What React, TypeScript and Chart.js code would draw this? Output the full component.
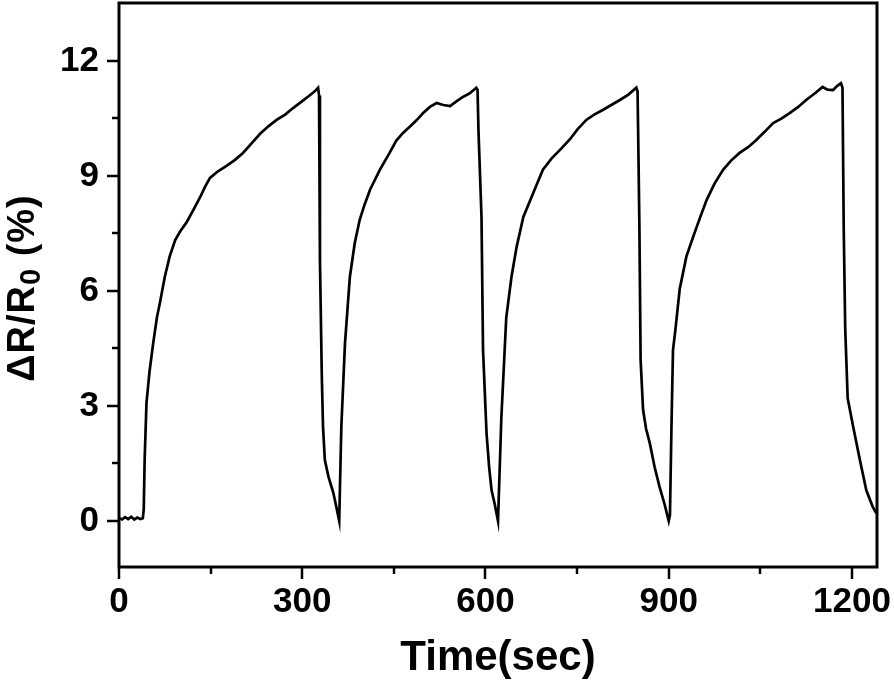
import React, { useEffect, useRef } from "react";
import { Chart, registerables } from "chart.js";

Chart.register(...registerables);

// Time (sec)
const times: number[] = [
  0, 5, 10, 15, 20, 25, 30, 35, 39, 40.5, 42, 45, 50, 56, 62, 67, 75, 83, 92, 100,
  111, 122, 133, 141, 149, 162, 176, 190, 203, 217, 231, 245, 258, 272, 285, 300, 313, 320, 326,
  327.5, 329, 332, 334, 337, 343, 351, 356, 360.5,
  364, 370, 378, 386, 394, 402, 411, 427, 443, 454, 465, 476, 487, 498, 509, 520, 531, 542, 553,
  563, 574, 585, 587,
  588.5, 593.5, 596, 601.7, 606, 610, 615, 620.5,
  626, 634, 642.6, 651, 662, 678, 694, 708, 722, 738, 751, 765, 778, 792, 806, 820, 834, 847, 849,
  850.5, 852, 854, 858, 863, 869, 877, 885, 893, 900,
  902, 904.5, 907, 911, 918, 929, 940, 951, 962, 975, 989, 1002, 1016, 1030, 1043, 1057, 1071,
  1085, 1098, 1112, 1125, 1139, 1152, 1160, 1169, 1176, 1182, 1184.5,
  1186.5, 1189, 1193, 1202, 1213, 1223.5, 1234, 1240,
];

// ΔR/R0 (%)
const values: number[] = [
  0.08, 0.04, 0.1, 0.05, 0.11, 0.04, 0.09, 0.05, 0.07, 0.3, 1.6, 3.08, 3.9, 4.64, 5.3, 5.69, 6.37, 6.9, 7.33, 7.55,
  7.8, 8.12, 8.45, 8.72, 8.95, 9.12, 9.26, 9.42, 9.6, 9.85, 10.1, 10.3, 10.46, 10.6, 10.77, 10.95, 11.11, 11.2, 11.3,
  11.1, 6.8, 3.8, 2.46, 1.59, 1.15, 0.73, 0.35, 0,
  2.46, 4.64, 6.37, 7.25, 7.85, 8.25, 8.64, 9.16, 9.6, 9.92, 10.12, 10.28, 10.45, 10.64, 10.8, 10.9, 10.85, 10.82, 10.95,
  11.06, 11.15, 11.3, 11.25,
  10.2, 7.93, 4.46, 2.3, 1.4, 0.8, 0.45, 0,
  2.7, 5.3, 6.37, 7.15, 7.93, 8.55, 9.16, 9.45, 9.68, 9.95, 10.22, 10.46, 10.6, 10.72, 10.85, 10.98, 11.12, 11.3, 11.2,
  9.5, 7.67, 4.2, 2.9, 2.4, 2.03, 1.4, 0.89, 0.45, 0.0,
  0.15, 2.46, 4.46, 5.0, 6.05, 6.9, 7.41, 7.9, 8.37, 8.8, 9.16, 9.4, 9.6, 9.75, 9.93, 10.15, 10.38,
  10.5, 10.64, 10.8, 10.98, 11.15, 11.32, 11.25, 11.24, 11.35, 11.42, 11.3,
  7.67, 5.0, 3.2, 2.46, 1.59, 0.8, 0.37, 0.2,
];

const xTickValues: number[] = [0, 300, 600, 900, 1200];
const yTickValues: number[] = [0, 3, 6, 9, 12];
const xTitle = "Time(sec)";
const yTitleMain = "ΔR/R";
const yTitleSub = "0";
const yTitleTail = " (%)";

const FONT = '"Liberation Sans", Arial, Helvetica, sans-serif';

const framePlugin = {
  id: "frame",
  afterDraw(chart: any) {
    const { ctx, chartArea: a, scales } = chart;
    const xs = scales.x;
    const ys = scales.y;
    ctx.save();
    ctx.strokeStyle = "#000";
    ctx.lineCap = "butt";
    ctx.lineWidth = 2.5;
    const xStep = xTickValues[1] - xTickValues[0];
    const yStep = yTickValues[1] - yTickValues[0];
    const xMarks: [number, number][] = [];
    xTickValues.forEach((v) => {
      xMarks.push([v, 12]);
      xMarks.push([v + xStep / 2, 7]);
    });
    const yMarks: [number, number][] = [];
    yTickValues.forEach((v) => {
      yMarks.push([v, 12]);
      yMarks.push([v + yStep / 2, 7]);
    });
    xMarks.forEach(([v, len]) => {
      if (v < xs.min || v > xs.max - 1) return;
      const px = Math.round(xs.getPixelForValue(v));
      ctx.beginPath();
      ctx.moveTo(px, a.bottom);
      ctx.lineTo(px, a.bottom + len);
      ctx.stroke();
    });
    yMarks.forEach(([v, len]) => {
      if (v < ys.min || v > ys.max - 0.05) return;
      const py = Math.round(ys.getPixelForValue(v));
      ctx.beginPath();
      ctx.moveTo(a.left, py);
      ctx.lineTo(a.left - len, py);
      ctx.stroke();
    });
    ctx.lineWidth = 3;
    ctx.strokeRect(a.left, a.top, a.right - a.left, a.bottom - a.top);

    // y-axis title with a real subscript
    const mainFont = `bold 38px ${FONT}`;
    const subFont = `bold 29px ${FONT}`;
    ctx.fillStyle = "#000";
    ctx.textBaseline = "alphabetic";
    ctx.textAlign = "left";
    (ctx as any).letterSpacing = "1px";
    ctx.font = mainFont;
    const w1 = ctx.measureText(yTitleMain).width;
    const w3 = ctx.measureText(yTitleTail).width;
    ctx.font = subFont;
    const w2 = ctx.measureText(yTitleSub).width;
    const total = w1 + w2 + w3;
    const cy = (a.top + a.bottom) / 2 + 3;
    const baseX = 34;
    ctx.translate(baseX, cy);
    ctx.rotate(-Math.PI / 2);
    let x0 = -total / 2;
    ctx.font = mainFont;
    ctx.fillText(yTitleMain, x0, 0);
    x0 += w1;
    ctx.font = subFont;
    ctx.fillText(yTitleSub, x0, 6);
    x0 += w2;
    ctx.font = mainFont;
    ctx.fillText(yTitleTail, x0, 0);
    ctx.restore();
  },
};

export default function App() {
  const canvasRef = useRef<HTMLCanvasElement | null>(null);

  useEffect(() => {
    const canvas = canvasRef.current;
    if (!canvas) return;
    const data = times.map((t, i) => ({ x: t, y: values[i] }));
    const zeroPad = (s: any) => {
      s.paddingTop = 0;
      s.paddingBottom = 0;
      s.paddingLeft = 0;
      s.paddingRight = 0;
    };
    const chart = new Chart(canvas, {
      type: "line",
      data: {
        datasets: [
          {
            label: "ΔR/R0 (%)",
            data,
            borderColor: "#000",
            borderWidth: 2.7,
            pointRadius: 0,
            tension: 0,
            fill: false,
          },
        ],
      },
      options: {
        responsive: false,
        animation: false,
        maintainAspectRatio: false,
        layout: { padding: { top: 3, right: 17, left: 0, bottom: 0 } },
        plugins: {
          legend: { display: false },
          tooltip: { enabled: false },
        },
        scales: {
          x: {
            type: "linear",
            min: 0,
            max: 1241,
            afterBuildTicks: (s: any) => {
              s.ticks = xTickValues.map((v) => ({ value: v }));
            },
            afterFit: (s: any) => {
              s.height = 117;
              zeroPad(s);
            },
            grid: { display: false, drawTicks: false },
            border: { display: false },
            ticks: {
              color: "#000",
              padding: 14,
              maxRotation: 0,
              autoSkip: false,
              callback: (v: any) => String(v),
              font: { family: FONT, size: 35, weight: "bold" },
            },
            title: {
              display: true,
              text: xTitle,
              color: "#000",
              padding: { top: 4, bottom: 0 },
              font: { family: FONT, size: 42, weight: "bold" },
            },
          },
          y: {
            type: "linear",
            min: -1.2,
            max: 13.51,
            afterBuildTicks: (s: any) => {
              s.ticks = yTickValues.map((v) => ({ value: v }));
            },
            afterFit: (s: any) => {
              s.width = 119;
              zeroPad(s);
            },
            grid: { display: false, drawTicks: false },
            border: { display: false },
            ticks: {
              color: "#000",
              padding: 20,
              autoSkip: false,
              callback: (v: any) => String(v),
              font: { family: FONT, size: 35, weight: "bold" },
            },
            title: { display: false },
          },
        },
      },
      plugins: [framePlugin],
    });
    return () => chart.destroy();
  }, []);

  return (
    <div style={{ position: "fixed", left: 0, top: 0, width: 894, height: 684, background: "#fff" }}>
      <canvas ref={canvasRef} width={894} height={684} style={{ display: "block", width: 894, height: 684 }} />
    </div>
  );
}
